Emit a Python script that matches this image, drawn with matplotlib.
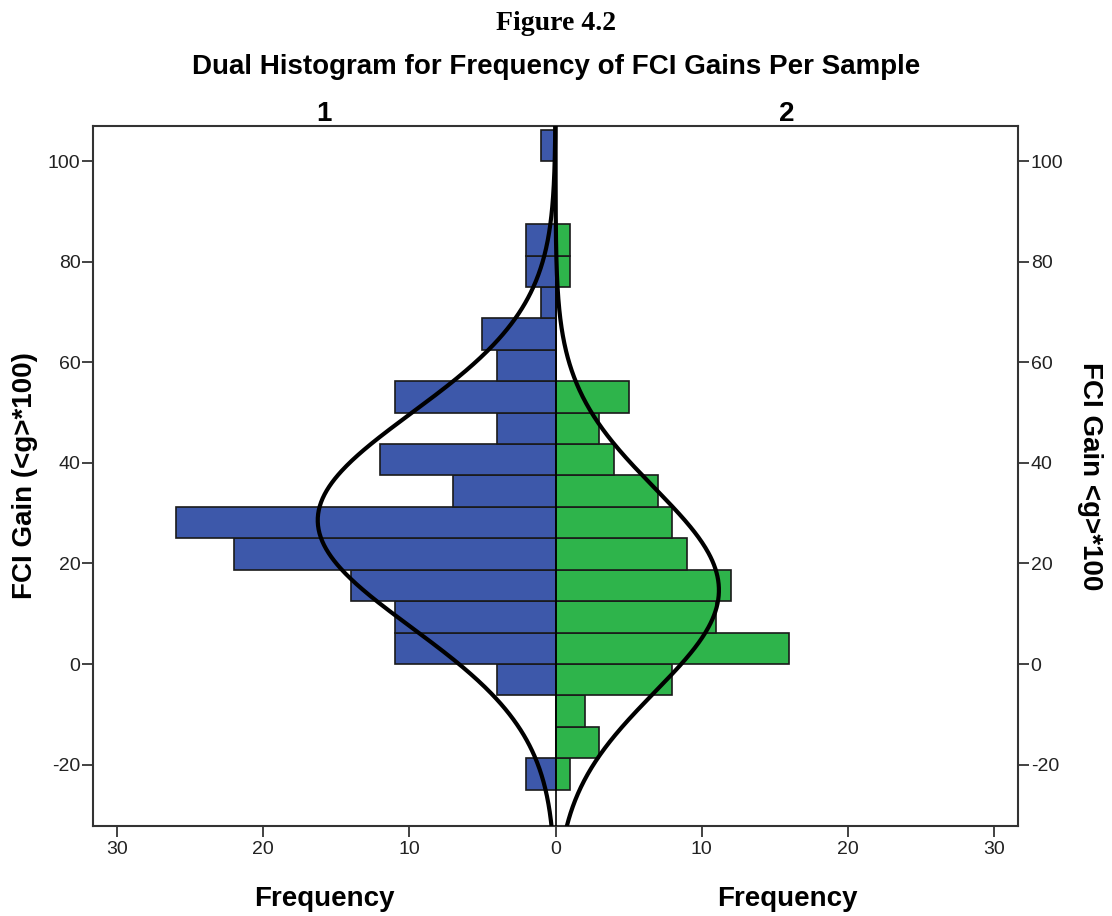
import matplotlib.pyplot as plt
import numpy as np

# bin lower edges (FCI gain, <g>*100), width 6.25
bin_edges = [-25, -18.75, -12.5, -6.25, 0, 6.25, 12.5, 18.75, 25, 31.25,
             37.5, 43.75, 50, 56.25, 62.5, 68.75, 75, 81.25, 87.5, 93.75, 100]
bin_width = 6.25

# sample 1 (left, blue) and sample 2 (right, green) counts per bin
freq_1 = [2, 0, 0, 4, 11, 11, 14, 22, 26, 7, 12, 4, 11, 4, 5, 1, 2, 2, 0, 0, 1]
freq_2 = [1, 3, 2, 8, 16, 11, 12, 9, 8, 7, 4, 3, 5, 0, 0, 0, 1, 1, 0, 0, 0]

# fitted normal curve parameters
mean_1, sd_1 = 28.6, 21.3
mean_2, sd_2 = 14.7, 20.3

panel_labels = ['1', '2']
x_ticks = [-30, -20, -10, 0, 10, 20, 30]
y_ticks = [-20, 0, 20, 40, 60, 80, 100]

blue = '#3D58AA'
green = '#2EB44B'
font = 'Liberation Sans'
plt.rcParams['axes.unicode_minus'] = False

fig = plt.figure(figsize=(11.12, 9.16), dpi=100)
ax = fig.add_axes([0.0836, 0.0983, 0.832, 0.7641])

f1 = np.array(freq_1)
f2 = np.array(freq_2)
ax.barh(bin_edges, -f1, height=bin_width, align='edge', color=blue,
        edgecolor='#1a1a1a', linewidth=1.2, zorder=2)
ax.barh(bin_edges, f2, height=bin_width, align='edge', color=green,
        edgecolor='#1a1a1a', linewidth=1.2, zorder=2)
ax.axvline(0, color='black', linewidth=1.2, zorder=3)

# normal curves scaled to counts
yy = np.linspace(-40, 115, 600)
def curve(n, m, s):
    return n * bin_width / (s * np.sqrt(2 * np.pi)) * np.exp(-(yy - m) ** 2 / (2 * s ** 2))
ax.plot(-curve(f1.sum(), mean_1, sd_1), yy, color='black', linewidth=3, zorder=4)
ax.plot(curve(f2.sum(), mean_2, sd_2), yy, color='black', linewidth=3, zorder=4)

ax.set_xlim(-31.65, 31.65)
ax.set_ylim(-32.2, 107)
ax.set_xticks(x_ticks)
ax.set_xticklabels([str(abs(t)) for t in x_ticks])
ax.set_yticks(y_ticks)
ax.tick_params(axis='both', direction='out', length=8, width=1.2,
               labelsize=14, colors='#222222', pad=3)
ax.tick_params(axis='y', left=True, right=True, labelleft=True, labelright=True, pad=1)
for lab in ax.get_xticklabels() + ax.get_yticklabels():
    lab.set_fontfamily(font)
for sp in ax.spines.values():
    sp.set_linewidth(1.5)
    sp.set_color('#333333')

# texts
fig.text(0.5, 1 - 29.5 / 916, 'Figure 4.2', ha='center', va='baseline', fontsize=20,
         fontweight='bold', family='Liberation Serif')
fig.text(0.5, 1 - 73.5 / 916, 'Dual Histogram for Frequency of FCI Gains Per Sample',
         ha='center', va='baseline', fontsize=20, fontweight='bold', family=font)
fig.text(324 / 1112, 1 - 121 / 916, panel_labels[0], ha='center', va='baseline',
         fontsize=20, fontweight='bold', family=font)
fig.text(787 / 1112, 1 - 121 / 916, panel_labels[1], ha='center', va='baseline',
         fontsize=20, fontweight='bold', family=font)
fig.text(324 / 1112, 1 - 906 / 916, 'Frequency', ha='center', va='baseline',
         fontsize=20, fontweight='bold', family=font)
fig.text(787 / 1112, 1 - 906 / 916, 'Frequency', ha='center', va='baseline',
         fontsize=20, fontweight='bold', family=font)
fig.text(25 / 1112, 1 - 476 / 916, 'FCI Gain (<g>*100)', ha='center', va='center',
         rotation=90, fontsize=20, fontweight='bold', family=font)
fig.text(1090 / 1112, 1 - 476 / 916, 'FCI Gain <g>*100', ha='center', va='center',
         rotation=270, fontsize=20, fontweight='bold', family=font)

fig.savefig('out.png', dpi=100)
